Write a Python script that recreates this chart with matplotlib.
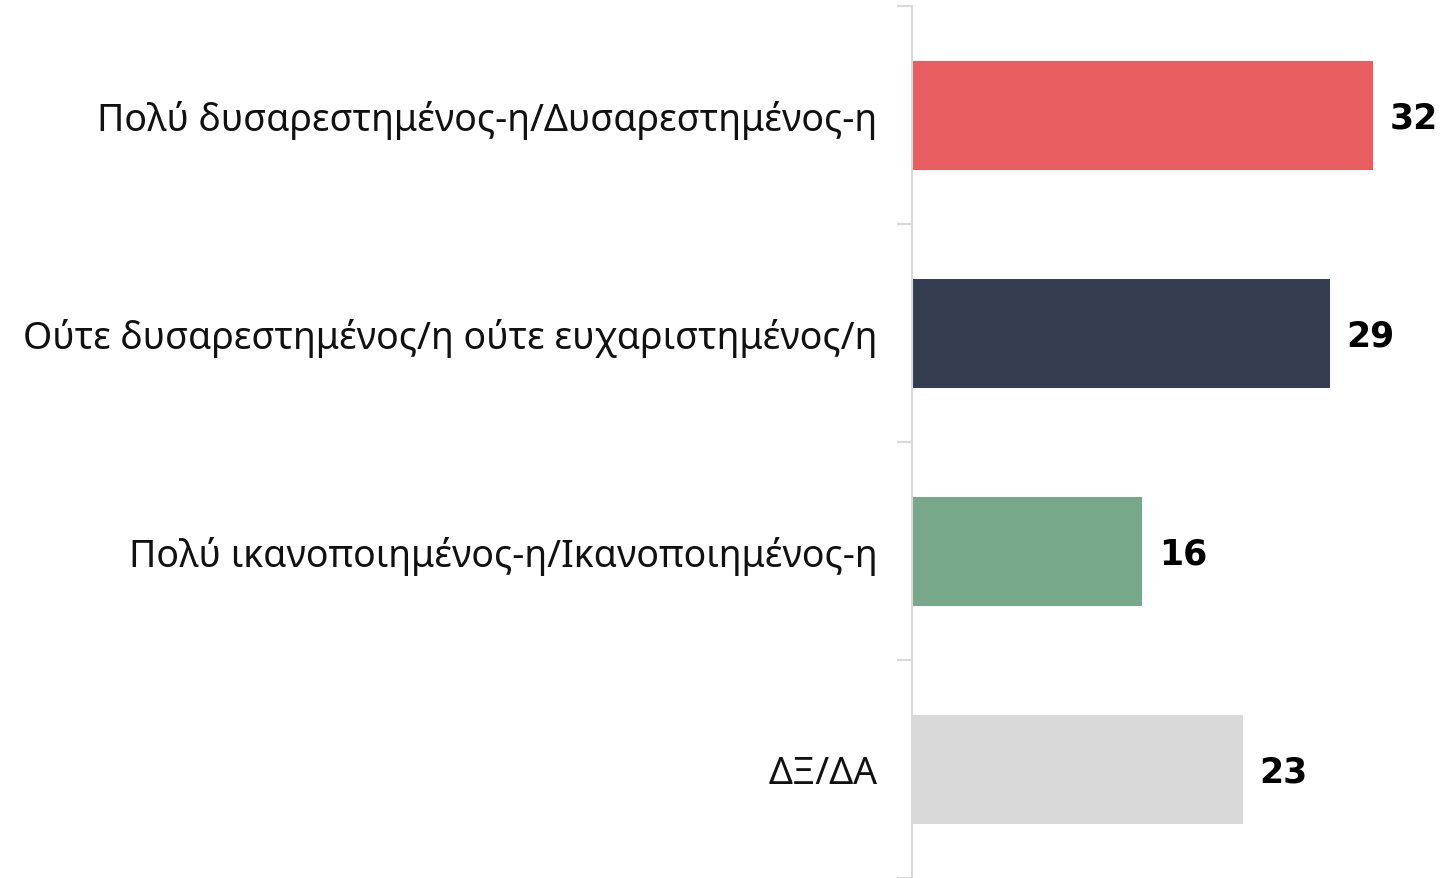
import matplotlib
matplotlib.use("Agg")
import matplotlib.pyplot as plt

categories = ["Πολύ δυσαρεστημένος-η/Δυσαρεστημένος-η",
              "Ούτε δυσαρεστημένος/η ούτε ευχαριστημένος/η",
              "Πολύ ικανοποιημένος-η/Ικανοποιημένος-η",
              "ΔΞ/ΔΑ"]
values = [32, 29, 16, 23]
colors = ["#E85D5F", "#343D50", "#77A889", "#D9D9D9"]

plt.rcParams['font.family'] = ['Noto Sans', 'DejaVu Sans']

W, H = 1440, 879
fig = plt.figure(figsize=(W / 100, H / 100), dpi=100)
left = 912 / W
top = 7 / H
ax = fig.add_axes([left, 0, 1 - left, 1 - top])

y = list(range(len(categories)))
ax.barh(y, values, height=0.5, color=colors, zorder=2)
ax.set_ylim(len(categories) - 0.5, -0.5)
ax.set_xlim(0, (W - 913) / 14.37)

for yi, v in zip(y, values):
    ax.text(v + 1.15, yi + 0.01, str(v), va='center', ha='left', fontsize=25,
            fontweight='bold', color='black', family=['DejaVu Sans'])

ax.set_yticks([i - 0.5 for i in range(len(categories) + 1)])
ax.set_yticklabels([])
ax.set_yticks(y, minor=True)
ax.set_yticklabels(categories, minor=True, fontsize=27, color='#111111')
ax.tick_params(axis='y', which='major', length=11, color='#D9D9D9', width=1.5)
ax.tick_params(axis='y', which='minor', length=0, pad=25)
ax.set_xticks([])
for s in ['top', 'right', 'bottom']:
    ax.spines[s].set_visible(False)
ax.spines['left'].set_color('#D9D9D9')
ax.spines['left'].set_linewidth(1.5)

fig.savefig("out.png", dpi=100)
